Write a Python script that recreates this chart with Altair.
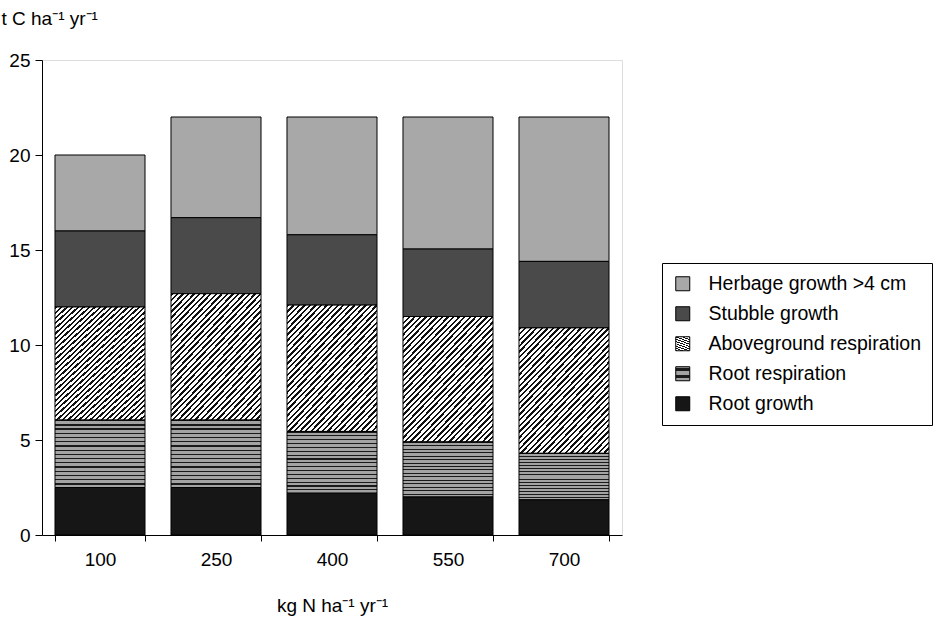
import json
import altair as alt
import pandas as pd

# ---- data ----
doses = ["100", "250", "400", "550", "700"]
series = ["Herbage growth >4 cm", "Stubble growth", "Aboveground respiration",
          "Root respiration", "Root growth"]
root_growth = [2.5, 2.5, 2.2, 2.0, 1.85]
root_resp = [3.55, 3.55, 3.25, 2.9, 2.45]
aboveground = [5.95, 6.65, 6.65, 6.6, 6.6]
stubble = [4.0, 4.0, 3.7, 3.55, 3.5]
herbage = [4.0, 5.3, 6.2, 6.95, 7.6]
y_ticks = [0, 5, 10, 15, 20, 25]

values = {
    "Herbage growth >4 cm": herbage,
    "Stubble growth": stubble,
    "Aboveground respiration": aboveground,
    "Root respiration": root_resp,
    "Root growth": root_growth,
}
rows = []
for s in series:
    for d, v in zip(doses, values[s]):
        rows.append({"dose": d, "series": s, "value": v,
                     "stack_idx": len(series) - 1 - series.index(s)})
df = pd.DataFrame(rows)


def stripes(n, dark, light, frac, x2, y2):
    stops = []
    for i in range(n):
        a = round(i / n, 5)
        b = round((i + frac) / n, 5)
        c = round((i + 1) / n, 5)
        stops += [{"offset": a, "color": dark}, {"offset": b, "color": dark},
                  {"offset": b, "color": light}, {"offset": c, "color": light}]
    return {"gradient": "linear", "x1": 0, "y1": 0, "x2": x2, "y2": y2,
            "stops": stops}


hatch = stripes(38, "#111111", "#ffffff", 0.42, 0.83, 1.12)
hlines = stripes(16, "#1a1a1a", "#a3a3a3", 0.3, 0, 1)

fill_range = [
    "#a8a8a8",
    "#4a4a4a",
    alt.ExprRef(expr=json.dumps(hatch)),
    alt.ExprRef(expr=json.dumps(hlines)),
    "#161616",
]

FONT = "Liberation Sans"
FS = 19

axis_style = dict(domainColor="black", tickColor="black", labelColor="black",
                  titleColor="black", labelFont=FONT, titleFont=FONT,
                  labelFontSize=FS, titleFontSize=FS, domainWidth=1,
                  tickWidth=1, titleFontWeight="normal", grid=False)

chart = alt.Chart(df).mark_bar(stroke="black", strokeWidth=1).encode(
    x=alt.X("dose:N", sort=doses,
            scale=alt.Scale(paddingInner=0.224, paddingOuter=0.112),
            axis=alt.Axis(title="kg N ha⁻¹ yr⁻¹", labelAngle=0,
                          tickBand="extent", tickSize=6, labelPadding=9,
                          titleY=76, titleBaseline="alphabetic",
                          **axis_style)),
    y=alt.Y("value:Q", stack="zero",
            scale=alt.Scale(domain=[0, 25], nice=False),
            axis=alt.Axis(values=y_ticks, title="t C ha⁻¹ yr⁻¹",
                          titleAngle=0, titleAlign="left", titleX=-41,
                          titleY=-36, titleBaseline="alphabetic",
                          tickSize=7, labelPadding=5, **axis_style)),
    fill=alt.Fill("series:N",
                  scale=alt.Scale(domain=series, range=fill_range),
                  legend=alt.Legend(orient="none", legendX=620, legendY=203,
                                    title=None, strokeColor="black",
                                    fillColor="white", padding=11,
                                    labelFontSize=19.5, labelFont=FONT,
                                    labelColor="black",
                                    symbolType="square", symbolSize=196,
                                    symbolStrokeColor="black",
                                    symbolStrokeWidth=1, labelOffset=16,
                                    rowPadding=9, cornerRadius=0,
                                    labelLimit=400)),
    order=alt.Order("stack_idx:Q", sort="ascending"),
).properties(
    width=580, height=475,
    autosize=alt.AutoSizeParams(type="none"),
    padding={"left": 42, "top": 60, "right": 322, "bottom": 85},
).configure_view(
    stroke="black", strokeWidth=1
).configure(background="white")

chart.save("out.html", embed_options={"renderer": "svg", "actions": False})
